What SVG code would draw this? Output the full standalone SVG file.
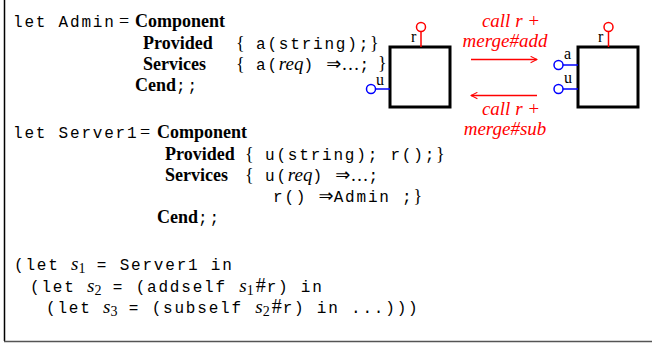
<svg xmlns="http://www.w3.org/2000/svg" width="652" height="343" viewBox="0 0 652 343">
<style>
.tt{font-family:"Liberation Mono",monospace;font-size:16px;letter-spacing:1.8px;fill:#000}
.rm{font-family:"Liberation Serif",serif;font-size:18px;fill:#000}
.ar{font-family:"DejaVu Sans",sans-serif;font-size:18px;fill:#000}
.bf{font-family:"Liberation Serif",serif;font-size:18px;font-weight:bold;fill:#000}
.it{font-family:"Liberation Serif",serif;font-size:19px;font-style:italic}
.lbl{font-family:"Liberation Serif",serif;font-size:16px;fill:#000}
.red{font-family:"Liberation Serif",serif;font-size:19px;font-style:italic;fill:#ff0000;text-anchor:middle}
.box{fill:#fff;stroke:#000;stroke-width:3}
.rp{fill:#fff;stroke:#ff0000;stroke-width:1.5}
.bp{fill:#fff;stroke:#0000ff;stroke-width:1.5}
.rl{stroke:#ff0000;stroke-width:1.5;fill:none}
.bl{stroke:#0000ff;stroke-width:1.5;fill:none}
.sub{font-family:"Liberation Serif",serif;font-size:14px;fill:#000}
.hs{font-family:"Liberation Serif",serif;font-size:20px;fill:#000}
</style>
<defs>
<marker id="ah" viewBox="0 0 10 10" refX="9" refY="5" markerWidth="8" markerHeight="8" orient="auto" markerUnits="userSpaceOnUse">
<path d="M1,1 L9,5 L1,9" fill="none" stroke="#ff0000" stroke-width="1.3"/>
</marker>
</defs>
<g id="frame">
<line x1="4.5" y1="0" x2="4.5" y2="341" stroke="#000" stroke-width="1.5"/>
<line x1="4" y1="341.5" x2="652" y2="341.5" stroke="#555" stroke-width="1.5"/>
</g>
<g id="code">
<text class="tt" x="13" y="27">let Admin</text>
<text class="rm" x="119" y="27">=</text>
<text class="bf" x="135" y="27">Component</text>
<text class="bf" x="143" y="49">Provided</text>
<text x="236" y="49"><tspan class="rm">{</tspan><tspan class="tt"> a(string);</tspan><tspan class="rm">}</tspan></text>
<text class="bf" x="143" y="70">Services</text>
<text x="236" y="70"><tspan class="rm">{</tspan><tspan class="tt"> a(</tspan><tspan class="it">req</tspan><tspan class="tt">) </tspan><tspan class="ar">⇒</tspan><tspan class="rm">…</tspan><tspan class="tt">;</tspan></text>
<text class="rm" x="378" y="69">}</text>
<text x="135" y="91"><tspan class="bf">Cend</tspan><tspan class="tt">;;</tspan></text>

<text class="tt" x="13" y="138">let Server1</text>
<text class="rm" x="140" y="138">=</text>
<text class="bf" x="157" y="138">Component</text>
<text class="bf" x="165" y="160">Provided</text>
<text x="245" y="160"><tspan class="rm">{</tspan><tspan class="tt"> u(string); r();</tspan><tspan class="rm">}</tspan></text>
<text class="bf" x="165" y="181">Services</text>
<text x="245" y="181"><tspan class="rm">{</tspan><tspan class="tt"> u(</tspan><tspan class="it">req</tspan><tspan class="tt">) </tspan><tspan class="ar">⇒</tspan><tspan class="rm">…</tspan><tspan class="tt">;</tspan></text>
<text x="273" y="202"><tspan class="tt">r() </tspan><tspan class="ar">⇒</tspan><tspan class="tt">Admin ;</tspan><tspan class="rm">}</tspan></text>
<text x="157" y="223"><tspan class="bf">Cend</tspan><tspan class="tt">;;</tspan></text>

<text x="14" y="270"><tspan class="tt">(let </tspan><tspan class="it">s</tspan><tspan class="sub" dy="3">1</tspan><tspan class="tt" dy="-3"> = Server1 in</tspan></text>
<text x="30" y="292"><tspan class="tt">(let </tspan><tspan class="it">s</tspan><tspan class="sub" dy="3">2</tspan><tspan class="tt" dy="-3"> = (addself </tspan><tspan class="it" dx="1">s</tspan><tspan class="sub" dy="3">1</tspan><tspan class="hs" dx="2" dy="-3">#</tspan><tspan class="tt" dx="1">r) in</tspan></text>
<text x="46" y="313"><tspan class="tt">(let </tspan><tspan class="it">s</tspan><tspan class="sub" dy="3">3</tspan><tspan class="tt" dy="-3"> = (subself </tspan><tspan class="it" dx="1">s</tspan><tspan class="sub" dy="3">2</tspan><tspan class="hs" dx="2" dy="-3">#</tspan><tspan class="tt" dx="1">r) in ...)))</tspan></text>
</g>
<g id="connectors">
<line class="rl" x1="471" y1="59.5" x2="537" y2="59.5" marker-end="url(#ah)"/>
<line class="rl" x1="537" y1="95.5" x2="471" y2="95.5" marker-end="url(#ah)"/>
<text class="red" x="511" y="27">call r +</text>
<text class="red" x="505" y="47">merge#add</text>
<text class="red" x="511" y="115">call r +</text>
<text class="red" x="505" y="135">merge#sub</text>
</g>
<g id="admin">
<rect class="box" x="390" y="47" width="60" height="60"/>
<line class="rl" x1="421" y1="31.5" x2="421" y2="47"/>
<circle class="rp" cx="421" cy="27" r="4.5"/>
<line class="bl" x1="375.5" y1="89" x2="390" y2="89"/>
<circle class="bp" cx="371" cy="89" r="4.5"/>
<text class="lbl" x="376" y="85">u</text>
<text class="lbl" x="411" y="42">r</text>
</g>
<g id="server1">
<rect class="box" x="578" y="47" width="60" height="60"/>
<line class="rl" x1="608.5" y1="31.5" x2="608.5" y2="47"/>
<circle class="rp" cx="608.5" cy="27" r="4.5"/>
<line class="bl" x1="563" y1="65" x2="578" y2="65"/>
<circle class="bp" cx="558.5" cy="65" r="4.5"/>
<line class="bl" x1="563" y1="89" x2="578" y2="89"/>
<circle class="bp" cx="558.5" cy="89" r="4.5"/>
<text class="lbl" x="598" y="42">r</text>
<text class="lbl" x="564" y="59">a</text>
<text class="lbl" x="564" y="83">u</text>
</g>
</svg>
